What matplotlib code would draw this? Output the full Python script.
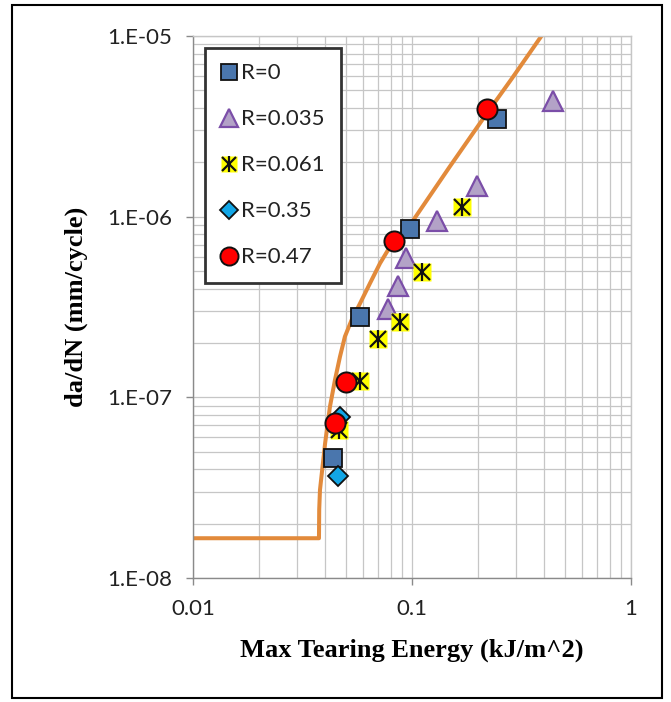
import numpy as np
import matplotlib
matplotlib.use('Agg')
import matplotlib.pyplot as plt
from matplotlib.legend_handler import HandlerTuple
from matplotlib.patches import Rectangle

# fitted curve
curve_x = [0.01, 0.0376, 0.0377, 0.0380, 0.0401, 0.0422, 0.0445, 0.0469, 0.0494,
           0.0530, 0.0579, 0.0643, 0.0714, 0.0793, 0.0828, 0.1014, 0.1491, 0.2117,
           0.2853, 0.39, 0.41]
curve_y = [1.66e-8, 1.66e-8, 2.4e-8, 3.07e-8, 5.56e-8, 8.87e-8, 1.25e-7, 1.68e-7, 2.17e-7,
           2.68e-7, 3.31e-7, 4.28e-7, 5.51e-7, 6.81e-7, 7.3e-7, 9.57e-7, 1.9e-6, 3.5e-6,
           5.8e-6, 1.0e-5, 1.09e-5]

# test data
r0_x = [0.0435, 0.0579, 0.098, 0.244]
r0_y = [4.6e-8, 2.78e-7, 8.5e-7, 3.47e-6]

r035_x = [0.0776, 0.0863, 0.094, 0.130, 0.198, 0.44]
r035_y = [3.08e-7, 4.13e-7, 5.9e-7, 9.5e-7, 1.47e-6, 4.37e-6]

r061_x = [0.0464, 0.0579, 0.070, 0.0882, 0.111, 0.169]
r061_y = [6.6e-8, 1.23e-7, 2.1e-7, 2.61e-7, 4.93e-7, 1.13e-6]

r035b_x = [0.0459, 0.0469]
r035b_y = [3.66e-8, 7.8e-8]

r047_x = [0.0445, 0.050, 0.0828, 0.220]
r047_y = [7.2e-8, 1.22e-7, 7.3e-7, 3.94e-6]

labels = ['R=0', 'R=0.035', 'R=0.061', 'R=0.35', 'R=0.47']

fig = plt.figure(figsize=(6.71, 7.02), dpi=100)
ax = fig.add_axes([193/671, 1-578/702, 438/671, 542/702])

ax.plot(curve_x, curve_y, color='#E28A3B', lw=2.9, zorder=2)

h0, = ax.plot(r0_x, r0_y, 's', ms=13.5, mfc='#4A76AD', mec='#111111', mew=1.3, zorder=3)
h1, = ax.plot(r035_x, r035_y, '^', ms=14, mfc='#B3A2C7', mec='#7B4EA8', mew=1.6, zorder=4)
h2a, = ax.plot(r061_x, r061_y, 's', ms=13, mfc='#FFFF00', mec='none', zorder=5)
h2b, = ax.plot(r061_x, r061_y, '|', ms=13, mec='#111111', mew=1.6, zorder=5)
h2c, = ax.plot(r061_x, r061_y, 'x', ms=11, mec='#111111', mew=1.6, zorder=5)
h3, = ax.plot(r035b_x, r035b_y, 'D', ms=10, mfc='#12A6E6', mec='#111111', mew=1.3, zorder=6)
h4, = ax.plot(r047_x, r047_y, 'o', ms=14.5, mfc='#FF0000', mec='#111111', mew=1.4, zorder=7)

ax.set_xscale('log')
ax.set_yscale('log')
ax.set_xlim(0.01, 1)
ax.set_ylim(1e-8, 1e-5)

ax.grid(True, which='both', color='#C6C6C6', lw=0.9)
ax.set_axisbelow(True)
for s in ax.spines.values():
    s.set_color('#8A8A8A')
    s.set_linewidth(1.0)
ax.spines['top'].set_color('#C6C6C6')
ax.spines['right'].set_color('#C6C6C6')

ax.set_xticks([0.01, 0.1, 1])
ax.set_xticklabels(['0.01', '0.1', '1'])
ax.set_yticks([1e-8, 1e-7, 1e-6, 1e-5])
ax.set_yticklabels(['1.E-08', '1.E-07', '1.E-06', '1.E-05'])
ax.tick_params(which='major', direction='out', length=5, width=1, color='#8A8A8A',
               labelsize=16, pad=10, labelcolor='#222222')
ax.tick_params(which='minor', length=0)
for t in ax.get_xticklabels() + ax.get_yticklabels():
    t.set_fontfamily('Lato')

ax.set_xlabel('Max Tearing Energy (kJ/m^2)', fontsize=19, fontweight='bold',
              fontfamily='Liberation Serif', labelpad=14)
ax.set_ylabel('da/dN (mm/cycle)', fontsize=19, fontweight='bold',
              fontfamily='Liberation Serif', labelpad=14)

leg = ax.legend([h0, h1, (h2a, h2b, h2c), h3, h4], labels,
                handler_map={tuple: HandlerTuple(ndivide=1, pad=0)},
                loc='upper left', bbox_to_anchor=(0.027, 0.978), borderaxespad=0,
                fancybox=False, frameon=True, edgecolor='#333333', framealpha=1,
                prop={'family': 'Lato', 'size': 16}, labelspacing=1.17,
                handlelength=0.8, handletextpad=0.15, borderpad=0.7, markerscale=0.9)
leg.get_frame().set_linewidth(2.0)
leg.set_zorder(10)
for t in leg.get_texts():
    t.set_color('#222222')

fig.patches.append(Rectangle((12/671, 4/702), 650/671, 693/702, transform=fig.transFigure,
                             fill=False, edgecolor='black', lw=1.5))

fig.savefig('out.png', dpi=100)
